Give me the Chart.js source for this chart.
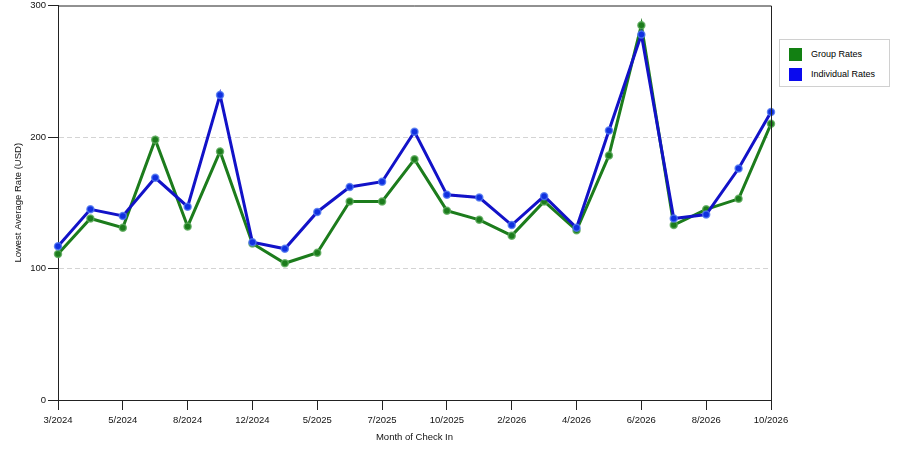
<!DOCTYPE html>
<html>
<head>
<meta charset="utf-8">
<script src="https://cdn.jsdelivr.net/npm/chart.js@4"></script>
<style>
  body { margin: 0; background: #fff; }
  #wrap { position: relative; width: 900px; height: 450px; }
  #legend {
    position: absolute; left: 779px; top: 39px; width: 109px; height: 46px;
    border: 1px solid #d0d0d0; background: #fff;
    font: 9px "Liberation Sans", Arial, sans-serif; color: #000;
  }
  #legend div { position: absolute; left: 9px; height: 13px; line-height: 13px; }
  #legend span { display: inline-block; width: 13px; height: 13px; vertical-align: top; margin-right: 9px; }
</style>
</head>
<body>
<div id="wrap">
  <canvas id="chart" width="900" height="450"></canvas>
  <div id="legend"></div>
</div>
<script>
// Data
var months = ['3/2024', '4/2024', '5/2024', '6/2024', '8/2024', '10/2024', '12/2024', '2/2025',
  '5/2025', '6/2025', '7/2025', '8/2025', '10/2025', '12/2025', '2/2026', '3/2026',
  '4/2026', '5/2026', '6/2026', '7/2026', '8/2026', '9/2026', '10/2026'];
var groupRates = [111, 138, 131, 198, 132, 189, 119, 104, 112, 151, 151, 183, 144, 137, 125, 151,
  129, 186, 285, 133, 145, 153, 210];
var individualRates = [117, 145, 140, 169, 147, 232, 120, 115, 143, 162, 166, 204, 156, 154, 133, 155,
  131, 205, 278, 138, 141, 176, 219];
var yTicks = [0, 100, 200, 300];

var seriesNames = ['Group Rates', 'Individual Rates'];
var lineColors = ['#1c7c1c', '#1212c8'];
var legendColors = ['#128012', '#0a0aee'];

var font = { family: '"Liberation Sans", Arial, sans-serif', size: 9.5 };

// Bingkai atas dan kanan
var framePlugin = {
  id: 'frame',
  afterDraw: function(chart) {
    var a = chart.chartArea, ctx = chart.ctx;
    ctx.save();
    ctx.strokeStyle = '#222';
    ctx.lineWidth = 1;
    ctx.beginPath();
    ctx.moveTo(a.left, a.top + 0.5);
    ctx.lineTo(a.right + 0.5, a.top + 0.5);
    ctx.lineTo(a.right + 0.5, a.bottom);
    ctx.stroke();
    ctx.restore();
  }
};

new Chart(document.getElementById('chart'), {
  type: 'line',
  data: {
    labels: months,
    datasets: [{
      label: seriesNames[0],
      data: groupRates,
      borderColor: lineColors[0],
      backgroundColor: lineColors[0],
      pointBorderColor: 'rgba(90,170,90,0.8)',
      pointBackgroundColor: lineColors[0],
      borderWidth: 3,
      pointRadius: 3.5,
      pointBorderWidth: 1.5,
      tension: 0,
      order: 1
    }, {
      label: seriesNames[1],
      data: individualRates,
      borderColor: lineColors[1],
      backgroundColor: lineColors[1],
      pointBorderColor: 'rgba(80,120,240,0.8)',
      pointBackgroundColor: '#1030e0',
      borderWidth: 3,
      pointRadius: 3.5,
      pointBorderWidth: 1.5,
      tension: 0,
      order: 0
    }]
  },
  options: {
    responsive: false,
    animation: false,
    layout: { padding: { top: 0, right: 129, left: 0, bottom: 0 } },
    plugins: { legend: { display: false }, tooltip: { enabled: false } },
    scales: {
      x: {
        offset: false,
        afterFit: function(s) { s.height = 50; },
        border: { color: '#222', width: 1 },
        grid: {
          drawOnChartArea: false,
          tickLength: 10,
          tickColor: function(ctx) { return ctx.index % 2 === 0 ? '#222' : 'rgba(0,0,0,0)'; }
        },
        ticks: {
          autoSkip: false,
          maxRotation: 0,
          padding: 5,
          color: '#111',
          font: font,
          callback: function(v, i) { return i % 2 === 0 ? months[i] : ''; }
        },
        title: {
          display: true,
          text: 'Month of Check In',
          color: '#111',
          font: font,
          padding: { top: 0, bottom: 7 }
        }
      },
      y: {
        min: 0,
        max: 300,
        afterFit: function(s) { s.width = 58; s.paddingTop = 4; },
        afterBuildTicks: function(s) { s.ticks = yTicks.map(function(v) { return { value: v }; }); },
        border: { color: '#222', width: 1, dash: [5, 3] },
        grid: {
          color: function(ctx) {
            var v = ctx.tick && ctx.tick.value;
            return (v === 100 || v === 200) ? '#d4d4d4' : 'rgba(0,0,0,0)';
          },
          tickColor: '#222',
          tickBorderDash: [],
          tickLength: 10
        },
        ticks: { padding: 2, color: '#111', font: font },
        title: {
          display: true,
          text: 'Lowest Average Rate (USD)',
          color: '#111',
          font: font,
          padding: { top: 13, bottom: 0 }
        }
      }
    }
  },
  plugins: [framePlugin]
});

// Legenda HTML
var legend = document.getElementById('legend');
seriesNames.forEach(function(name, i) {
  var item = document.createElement('div');
  item.style.top = (8 + i * 20) + 'px';
  var box = document.createElement('span');
  box.style.background = legendColors[i];
  item.appendChild(box);
  item.appendChild(document.createTextNode(name));
  legend.appendChild(item);
});
</script>
</body>
</html>
